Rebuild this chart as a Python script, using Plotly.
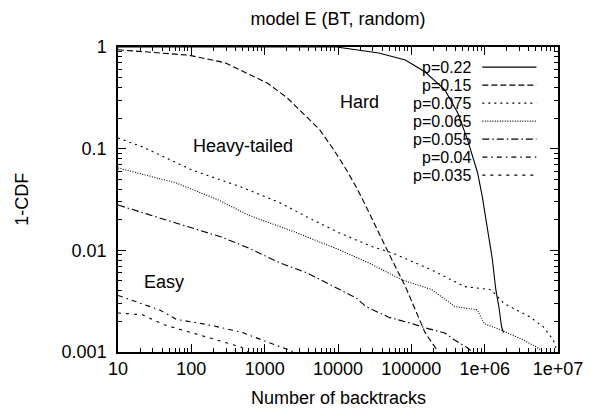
import math
import plotly.graph_objects as go

# ---------------- data ----------------
labels = ["p=0.22", "p=0.15", "p=0.075", "p=0.065", "p=0.055", "p=0.04", "p=0.035"]

x_p022 = [10, 9500, 36000, 83000, 154000, 287000, 430000, 585000, 800000, 930000,
          1.08e6, 1.26e6, 1.42e6, 1.56e6, 1.7e6, 1.81e6]
y_p022 = [1.0, 1.0, 0.873, 0.745, 0.568, 0.378, 0.224, 0.122, 0.058, 0.0335,
          0.017, 0.0086, 0.0041, 0.0028, 0.00177, 0.00155]

x_p015 = [10, 93, 288, 1100, 2040, 3800, 5650, 8800, 13000, 17700, 22000, 49000,
          83000, 154000, 223000]
y_p015 = [0.94, 0.83, 0.70, 0.44, 0.315, 0.205, 0.153, 0.097, 0.062, 0.042, 0.031,
          0.0094, 0.0044, 0.00155, 0.00105]

x_p0075 = [10, 21.7, 102, 476, 1640, 3780, 10500, 30000, 55600, 191000, 531000,
           1.22e6, 1.83e6, 4.2e6, 6.3e6, 8.6e6, 9.4e6]
y_p0075 = [0.127, 0.104, 0.0617, 0.042, 0.0292, 0.0213, 0.0148, 0.0108, 0.0094,
           0.0064, 0.0044, 0.0041, 0.0030, 0.0022, 0.00177, 0.00132, 0.0011]

x_p0065 = [10, 62, 234, 591, 2530, 10500, 26500, 75700, 191000, 390000, 793000,
           985000, 1.66e6, 3.39e6, 5.07e6, 6.3e6]
y_p0065 = [0.0646, 0.046, 0.0313, 0.0223, 0.0152, 0.0101, 0.0075, 0.0051, 0.0041,
           0.0028, 0.0026, 0.0019, 0.00165, 0.00131, 0.00112, 0.001]

x_p0055 = [10, 62, 257, 591, 1640, 3780, 10500, 17700, 24100, 49100, 103000,
           154000, 286000, 390000, 582000, 680000]
y_p0055 = [0.0279, 0.0186, 0.0135, 0.0106, 0.0075, 0.006, 0.0041, 0.0034, 0.0028,
           0.0022, 0.0019, 0.00173, 0.00154, 0.00131, 0.0011, 0.001]

x_p004 = [10, 36.6, 62, 172, 476, 1100, 2530]
y_p004 = [0.0036, 0.0026, 0.0021, 0.00185, 0.00157, 0.00126, 0.001]

x_p0035 = [10, 21.7, 42.8, 102, 234, 476, 591]
y_p0035 = [0.00242, 0.00232, 0.00185, 0.00154, 0.00131, 0.00112, 0.001]

x_tickvals = [10, 100, 1000, 10000, 100000, 1e6, 1e7]
x_ticktext = ["10", "100", "1000", "10000", "100000", "1e+06", "1e+07"]
y_tickvals = [0.001, 0.01, 0.1, 1]
y_ticktext = ["0.001", "0.01", "0.1", "1"]

region_labels = ["Hard", "Heavy-tailed", "Easy"]
region_x = [10000, 100, 21]
region_y = [0.288, 0.106, 0.0049]

# ---------------- styling ----------------
series_x = [x_p022, x_p015, x_p0075, x_p0065, x_p0055, x_p004, x_p0035]
series_y = [y_p022, y_p015, y_p0075, y_p0065, y_p0055, y_p004, y_p0035]
dashes = ["solid", "6px,3px", "2px,4px", "1px,1.5px", "7px,3px,1.5px,3px",
          "5px,4px,1.5px,4px", "3px,5px"]
FONT = "Liberation Sans, Arial, Helvetica, sans-serif"
FS = 18
KEY_FS = 16

fig = go.Figure()
for xs, ys, lab, d in zip(series_x, series_y, labels, dashes):
    fig.add_trace(go.Scatter(x=xs, y=ys, mode="lines", name=lab,
                             line=dict(color="black", width=1.1, dash=d),
                             showlegend=False))

axis_common = dict(type="log", showgrid=False, zeroline=False,
                   showline=True, linecolor="black", linewidth=1.5, mirror="allticks",
                   ticks="inside", ticklen=8, tickwidth=1, tickcolor="black",
                   minor=dict(ticks="inside", ticklen=4, tickwidth=1, tickcolor="black",
                              dtick="D1", showgrid=False),
                   tickfont=dict(family=FONT, size=FS, color="black"))

fig.update_xaxes(range=[1, 7], tickvals=x_tickvals, ticktext=x_ticktext,
                 ticklabelstandoff=0, **axis_common)
fig.update_yaxes(range=[-3, 0], tickvals=y_tickvals, ticktext=y_ticktext,
                 ticklabelstandoff=6, **axis_common)

# region annotations (log axes -> log10 coordinates)
for t, xv, yv in zip(region_labels, region_x, region_y):
    fig.add_annotation(x=math.log10(xv), y=math.log10(yv), xref="x", yref="y",
                       text=t, showarrow=False, xanchor="left", yanchor="middle",
                       font=dict(family=FONT, size=FS, color="black"))

# gnuplot-style key: right aligned text with sample line at its right
key_text_x = 0.805
key_line_x0, key_line_x1 = 0.828, 0.951
key_top = 0.934
key_step = 0.059
for i, (lab, d) in enumerate(zip(labels, dashes)):
    yy = key_top - i * key_step
    fig.add_annotation(x=key_text_x, y=yy, xref="paper", yref="paper", text=lab,
                       showarrow=False, xanchor="right", yanchor="middle",
                       borderpad=0,
                       font=dict(family=FONT, size=KEY_FS, color="black"))
    fig.add_shape(type="line", xref="paper", yref="paper",
                  x0=key_line_x0, x1=key_line_x1, y0=yy, y1=yy,
                  line=dict(color="black", width=1.1, dash=d))

# axis titles
fig.add_annotation(x=0.5, y=-0.151, xref="paper", yref="paper",
                   text="Number of backtracks", showarrow=False,
                   xanchor="center", yanchor="middle",
                   font=dict(family=FONT, size=FS, color="black"))
fig.add_annotation(x=-0.22, y=0.5, xref="paper", yref="paper",
                   text="1-CDF", showarrow=False, textangle=-90,
                   xanchor="center", yanchor="middle",
                   font=dict(family=FONT, size=FS, color="black"))

fig.update_layout(
    width=595, height=409,
    margin=dict(l=118, r=30, t=47, b=57),
    paper_bgcolor="white", plot_bgcolor="white",
    title=dict(text="model E (BT, random)", x=0.5, xref="paper",
               y=1 - 19 / 409, yref="container", yanchor="middle",
               font=dict(family=FONT, size=FS, color="black")),
    font=dict(family=FONT, size=FS, color="black"),
)

fig.write_html("out.html")
